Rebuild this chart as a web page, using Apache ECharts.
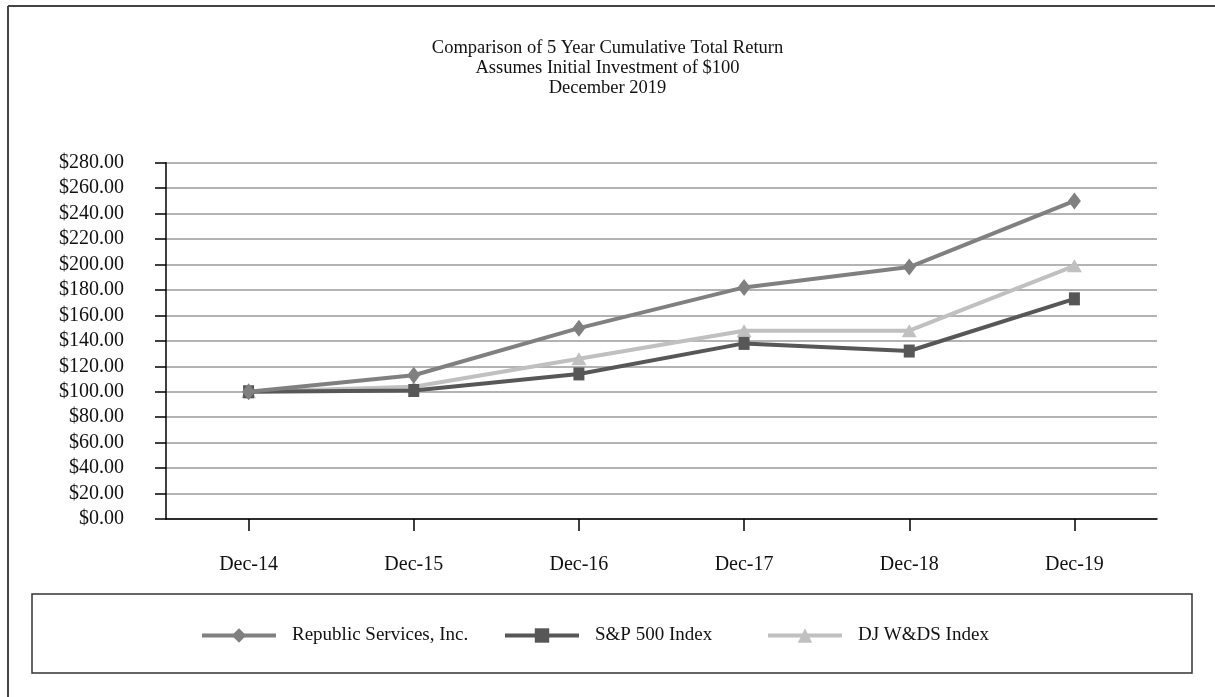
<!DOCTYPE html>
<html>
<head>
<meta charset="utf-8">
<script src="https://cdn.jsdelivr.net/npm/echarts@6/dist/echarts.min.js"></script>
<style>
html,body{margin:0;padding:0;background:#fff;}
#chart{width:1215px;height:697px;}
</style>
</head>
<body>
<div id="chart"></div>
<script>
const categories = ['Dec-14', 'Dec-15', 'Dec-16', 'Dec-17', 'Dec-18', 'Dec-19'];
const republic = [100, 113, 150, 182, 198, 250];
const sp500 = [100, 101, 114, 138, 132, 173];
const djwds = [100, 104, 126, 148, 148, 199];
const seriesNames = ['Republic Services, Inc.', 'S&P 500 Index', 'DJ W&DS Index'];
const titleText = 'Comparison of 5 Year Cumulative Total Return\nAssumes Initial Investment of $100\nDecember 2019';

const FONT = '"Liberation Serif", "DejaVu Serif", "Times New Roman", serif';
const chart = echarts.init(document.getElementById('chart'), null, {renderer: 'canvas'});

function legendItem(name, left) {
  return {
    data: [name], left: left, top: 626, orient: 'horizontal', padding: 0,
    itemWidth: 74, itemHeight: 18,
    lineStyle: {width: 4},
    textStyle: {fontFamily: FONT, fontSize: 19, color: '#111', padding: [0, 0, 0, 11]},
    selectedMode: false
  };
}

const option = {
  animation: false,
  backgroundColor: '#fff',
  title: {
    text: titleText, left: 'center', top: 33,
    textStyle: {fontFamily: FONT, fontSize: 18.5, fontWeight: 'normal', color: '#111', lineHeight: 20}
  },
  legend: [
    legendItem(seriesNames[0], 200),
    legendItem(seriesNames[1], 503),
    legendItem(seriesNames[2], 766)
  ],
  grid: {left: 166, right: 58, top: 162.7, bottom: 178, containLabel: false},
  xAxis: {
    type: 'category', data: categories, boundaryGap: true,
    axisLine: {show: true, lineStyle: {color: '#000', width: 1.5}},
    axisTick: {show: true, alignWithLabel: true, length: 12, lineStyle: {color: '#000', width: 1.5}},
    axisLabel: {fontFamily: FONT, fontSize: 20, color: '#111', margin: 36},
    splitLine: {show: false}
  },
  yAxis: {
    type: 'value', min: 0, max: 280, interval: 20,
    axisLine: {show: true, lineStyle: {color: '#000', width: 1.5}},
    axisTick: {show: true, inside: false, length: 11, lineStyle: {color: '#000', width: 1.5}},
    axisLabel: {fontFamily: FONT, fontSize: 20, color: '#111', margin: 42,
      formatter: v => '$' + v.toFixed(2)},
    splitLine: {show: true, lineStyle: {color: '#9a9a9a', width: 1.5}}
  },
  series: [
    {
      name: seriesNames[0], type: 'line', data: republic, z: 5,
      symbol: 'diamond', symbolSize: [13, 17],
      lineStyle: {color: '#808080', width: 4},
      itemStyle: {color: '#808080'}
    },
    {
      name: seriesNames[1], type: 'line', data: sp500, z: 4,
      symbol: 'rect', symbolSize: [11, 13],
      lineStyle: {color: '#575757', width: 4},
      itemStyle: {color: '#575757'}
    },
    {
      name: seriesNames[2], type: 'line', data: djwds, z: 3,
      symbol: 'triangle', symbolSize: [15, 13],
      lineStyle: {color: '#c0c0c0', width: 4},
      itemStyle: {color: '#c0c0c0'}
    }
  ],
  graphic: [
    {type: 'line', shape: {x1: 8, y1: 6, x2: 1215, y2: 6}, style: {stroke: '#444', lineWidth: 2}},
    {type: 'line', shape: {x1: 8, y1: 6, x2: 8, y2: 697}, style: {stroke: '#444', lineWidth: 2}},
    {type: 'rect', shape: {x: 32, y: 594, width: 1160, height: 79},
      style: {fill: 'none', stroke: '#333', lineWidth: 1.5}}
  ]
};
chart.setOption(option);
</script>
</body>
</html>
